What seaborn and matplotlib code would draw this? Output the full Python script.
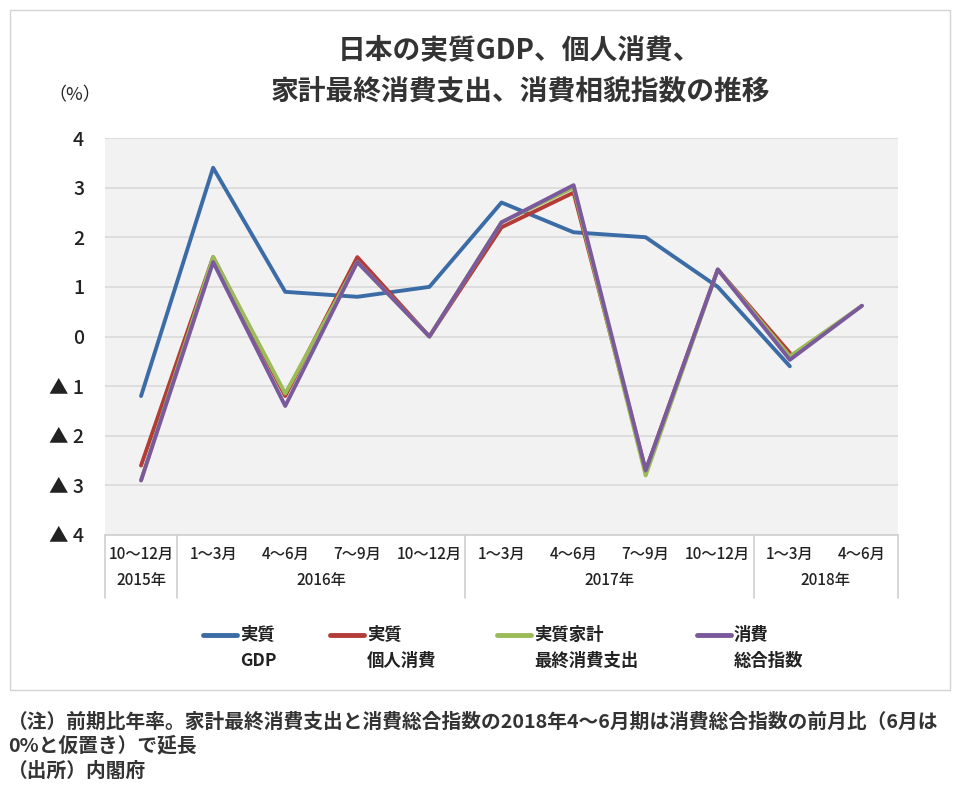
import numpy as np
import pandas as pd
import matplotlib
matplotlib.use("Agg")
import matplotlib.pyplot as plt
import matplotlib.transforms as mtransforms
from matplotlib.lines import Line2D
from matplotlib.patches import Rectangle
import seaborn as sns

# ---- data ----
quarters = ["10～12月", "1～3月", "4～6月", "7～9月", "10～12月",
            "1～3月", "4～6月", "7～9月", "10～12月", "1～3月", "4～6月"]
years = ["2015年", "2016年", "2017年", "2018年"]
year_centers = [0, 2.5, 6.5, 9.5]
year_separators = [-0.5, 0.5, 4.5, 8.5, 10.5]

gdp = [-1.2, 3.4, 0.9, 0.8, 1.0, 2.7, 2.1, 2.0, 1.0, -0.6, np.nan]
personal = [-2.6, 1.6, -1.2, 1.6, 0.0, 2.2, 2.9, -2.7, 1.35, -0.33, np.nan]
household = [-2.9, 1.6, -1.15, 1.5, 0.0, 2.3, 3.0, -2.8, 1.35, -0.4, 0.62]
index_ = [-2.9, 1.5, -1.4, 1.5, 0.0, 2.3, 3.05, -2.7, 1.35, -0.47, 0.62]

series_names = ["実質GDP", "実質個人消費", "実質家計最終消費支出", "消費総合指数"]
legend_lines = [("実質", "GDP"), ("実質", "個人消費"), ("実質家計", "最終消費支出"), ("消費", "総合指数")]
colors = ["#3B6CA6", "#B33C38", "#9BBB59", "#7A5A9C"]

yticks = [4, 3, 2, 1, 0, -1, -2, -3, -4]
yticklabels = ["4", "3", "2", "1", "0", "▲ 1", "▲ 2", "▲ 3", "▲ 4"]

rows = []
for name, vals in zip(series_names, [gdp, personal, household, index_]):
    for i, v in enumerate(vals):
        rows.append({"pos": i, "value": v, "series": name})
df = pd.DataFrame(rows).dropna()

# ---- figure ----
sns.set_style("white")
plt.rcParams["font.family"] = ["Noto Sans CJK JP", "DejaVu Sans"]

W, H = 960, 787
fig = plt.figure(figsize=(W / 100, H / 100), dpi=100)
fig.patch.set_facecolor("white")

def fx(px):
    return px / W

def fy(py):
    return 1 - py / H

# outer frame
fig.add_artist(Rectangle((fx(10), fy(690)), fx(940), (690 - 10) / H,
                         transform=fig.transFigure, fill=False,
                         edgecolor="#D4D4D4", linewidth=1.0))

ax = fig.add_axes([fx(105), fy(535), fx(898 - 105), (535 - 138) / H])
ax.set_facecolor("#F2F2F2")

sns.lineplot(data=df, x="pos", y="value", hue="series", hue_order=series_names,
             palette=colors, linewidth=2.8, legend=False, sort=False, ax=ax,
             estimator=None)

ax.set_xlim(-0.5, 10.5)
ax.set_ylim(-4, 4)
ax.set_yticks(yticks)
ax.set_yticklabels(yticklabels, fontsize=14, color="#222222", fontweight="medium")
ax.yaxis.grid(True, color="#D9D9D9", linewidth=1.2)
ax.set_axisbelow(True)
ax.set_xticks(range(len(quarters)))
ax.set_xticklabels(quarters, fontsize=11, color="#222222", fontweight="medium")
ax.tick_params(axis="x", length=0, pad=8)
ax.tick_params(axis="y", length=0, pad=15)
ax.set_xlabel("")
ax.set_ylabel("")
for s in ["top", "right", "left"]:
    ax.spines[s].set_visible(False)
ax.spines["bottom"].set_color("#D0D0D0")
ax.spines["bottom"].set_linewidth(1.2)

trans = mtransforms.blended_transform_factory(ax.transData, ax.transAxes)
for yr, c in zip(years, year_centers):
    ax.text(c, -(580 - 535) / 397, yr, transform=trans, ha="center", va="center",
            fontsize=11, color="#222222", fontweight="medium")
for sx in year_separators:
    ax.plot([sx, sx], [0, -(598 - 535) / 397], transform=trans, color="#D0D0D0",
            linewidth=1.2, clip_on=False)

# titles
fig.text(fx(520), fy(50), "日本の実質GDP、個人消費、", ha="center", va="center",
         fontsize=20, fontweight="bold", color="#333333")
fig.text(fx(520), fy(92), "家計最終消費支出、消費相貌指数の推移", ha="center", va="center",
         fontsize=20, fontweight="bold", color="#333333")
fig.text(fx(75), fy(95), "（%）", ha="center", va="center", fontsize=13, color="#222222")

# legend
leg_x = [203, 330, 497, 697]
for x0, col, (l1, l2) in zip(leg_x, colors, legend_lines):
    fig.add_artist(Line2D([fx(x0), fx(x0 + 34)], [fy(635), fy(635)],
                          transform=fig.transFigure, color=col, linewidth=3.5,
                          solid_capstyle="round"))
    fig.text(fx(x0 + 37), fy(635), l1, ha="left", va="center", fontsize=12.5,
             fontweight="bold", color="#222222")
    fig.text(fx(x0 + 37), fy(661), l2, ha="left", va="center", fontsize=12.5,
             fontweight="bold", color="#222222")

# footnotes
notes = ["（注）前期比年率。家計最終消費支出と消費総合指数の2018年4～6月期は消費総合指数の前月比（6月は",
         "0%と仮置き）で延長",
         "（出所）内閣府"]
for t, yy in zip(notes, [722, 746, 771]):
    fig.text(fx(8), fy(yy), t, ha="left", va="center", fontsize=14.2,
             fontweight="bold", color="#333333")

fig.savefig("out.png", dpi=100)
